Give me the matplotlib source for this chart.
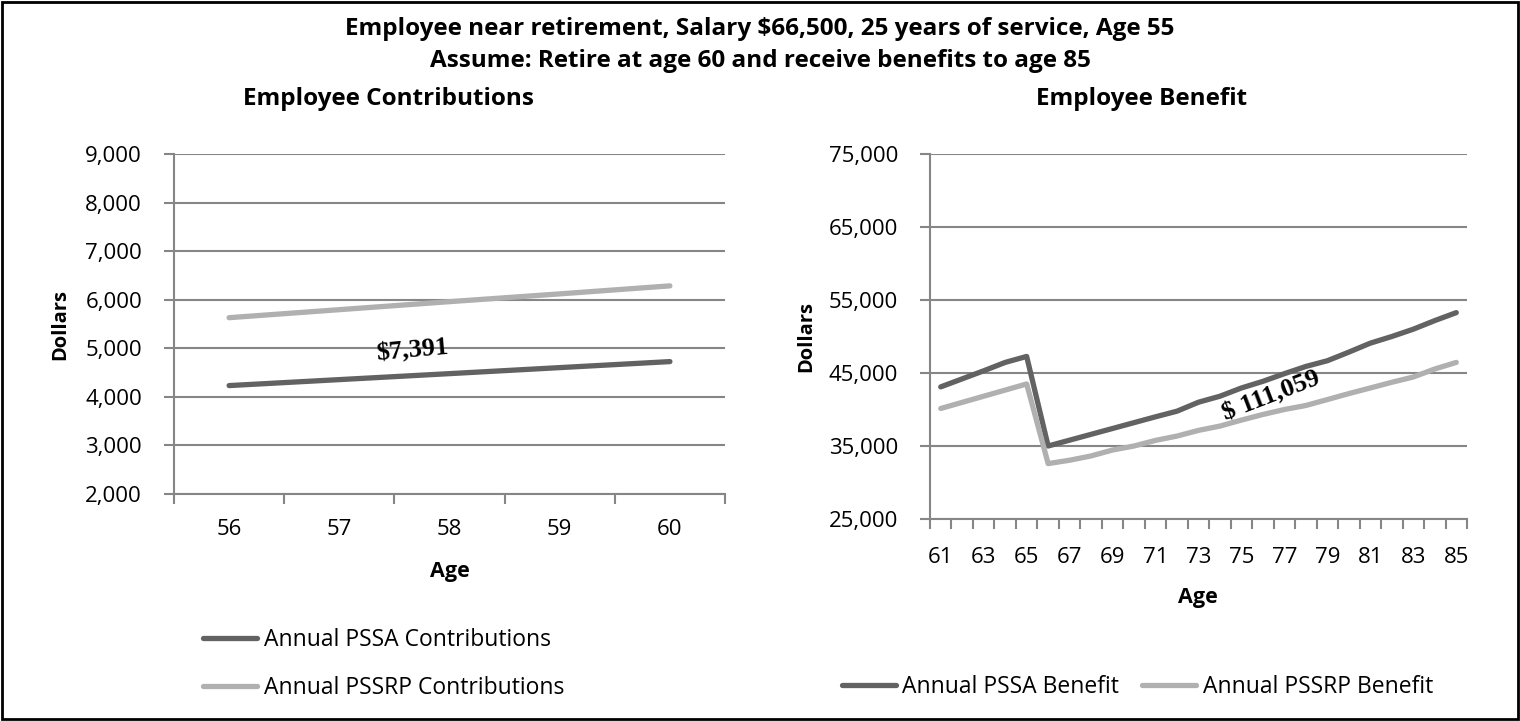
import matplotlib.pyplot as plt
from matplotlib.patches import Rectangle
from matplotlib.ticker import FuncFormatter

# contributions while still working
contrib_ages = [56, 57, 58, 59, 60]
pssa_contrib = [4232, 4355, 4478, 4602, 4726]
pssrp_contrib = [5630, 5795, 5960, 6120, 6285]

# benefits after retirement
benefit_ages = list(range(61, 86))
pssa_benefit = [43100, 44200, 45300, 46450, 47270,
                35000, 35800, 36600, 37400, 38200, 39000, 39770,
                41000, 41820, 42950, 43860, 44910, 45900, 46680,
                47860, 49090, 50000, 51000, 52180, 53270]
pssrp_benefit = [40140, 40980, 41820, 42660, 43500,
                 32590, 33050, 33640, 34450, 35000, 35770, 36360,
                 37140, 37730, 38550, 39320, 40000, 40550, 41360,
                 42180, 42950, 43730, 44450, 45550, 46450]

contrib_note = "$7,391"
benefit_note = "$ 111,059"

dark = '#626262'
light = '#b0b0b0'
grid = '#868686'
W, H = 1520, 721

plt.rcParams['font.family'] = ['Open Sans', 'DejaVu Sans']
plt.rcParams['axes.unicode_minus'] = False

fig = plt.figure(figsize=(W / 100, H / 100), dpi=100)


def px_axes(x0, x1, y0, y1):
    return fig.add_axes([x0 / W, 1 - y1 / H, (x1 - x0) / W, (y1 - y0) / H])


def style(ax):
    for s in ['top', 'right']:
        ax.spines[s].set_visible(False)
    for s in ['left', 'bottom']:
        ax.spines[s].set_color(grid)
        ax.spines[s].set_linewidth(1.5)
    ax.grid(axis='y', color=grid, linewidth=1.5)
    ax.set_axisbelow(True)
    ax.tick_params(axis='both', which='major', color=grid, width=1.5, length=7,
                   labelsize=16)
    ax.tick_params(axis='y', pad=16)
    ax.yaxis.set_major_formatter(FuncFormatter(lambda v, p: f'{v:,.0f}'))


# left chart
ax1 = px_axes(174, 725, 154, 494)
style(ax1)
ax1.plot(contrib_ages, pssa_contrib, color=dark, lw=3.8, solid_capstyle='round',
         label='Annual PSSA Contributions')
ax1.plot(contrib_ages, pssrp_contrib, color=light, lw=3.8, solid_capstyle='round',
         label='Annual PSSRP Contributions')
ax1.set_xlim(55.5, 60.5)
ax1.set_ylim(2000, 9000)
ax1.set_yticks(range(2000, 9001, 1000))
ax1.set_xticks([a + 0.5 for a in [55] + contrib_ages])
ax1.set_xticklabels([])
ax1.set_xticks(contrib_ages, minor=True)
ax1.set_xticklabels([str(a) for a in contrib_ages], minor=True)
ax1.tick_params(axis='x', which='minor', length=0, labelsize=16, pad=18)
ax1.text(57.66, 4950, contrib_note, rotation=5, ha='center', va='center',
         family='Liberation Serif', fontweight='bold', fontsize=19)
ax1.legend(loc='center left', bbox_to_anchor=(203 / W, 1 - 664 / H),
           bbox_transform=fig.transFigure, frameon=False, fontsize=16.5,
           handlelength=2.36, handletextpad=0.28, labelspacing=1.05,
           borderpad=0, borderaxespad=0)

# right chart
ax2 = px_axes(930, 1467, 154, 519)
style(ax2)
ax2.plot(benefit_ages, pssa_benefit, color=dark, lw=3.8, solid_capstyle='round',
         label='Annual PSSA Benefit')
ax2.plot(benefit_ages, pssrp_benefit, color=light, lw=3.8, solid_capstyle='round',
         label='Annual PSSRP Benefit')
ax2.set_xlim(60.5, 85.5)
ax2.set_ylim(25000, 75000)
ax2.set_yticks(range(25000, 75001, 10000))
ax2.set_xticks([a + 0.5 for a in [60] + benefit_ages])
ax2.set_xticklabels([])
ax2.set_xticks(benefit_ages[::2], minor=True)
ax2.set_xticklabels([str(a) for a in benefit_ages[::2]], minor=True)
ax2.tick_params(axis='x', which='minor', length=0, labelsize=16, pad=20)
ax2.text(76.4, 41900, benefit_note, rotation=21, ha='center', va='center',
         family='Liberation Serif', fontweight='bold', fontsize=19)
ax2.legend(loc='center left', bbox_to_anchor=(842 / W, 1 - 687 / H),
           bbox_transform=fig.transFigure, frameon=False, fontsize=16.5, ncol=2,
           handlelength=2.36, handletextpad=0.28, columnspacing=1.0,
           borderpad=0, borderaxespad=0)

# titles and axis labels
fig.text(0.5, 1 - 29 / H, 'Employee near retirement, Salary $66,500, 25 years of service, Age 55',
         ha='center', va='center', fontsize=17.5, fontweight='bold')
fig.text(0.5, 1 - 61 / H, 'Assume: Retire at age 60 and receive benefits to age 85',
         ha='center', va='center', fontsize=17.5, fontweight='bold')
fig.text(388 / W, 1 - 99 / H, 'Employee Contributions', ha='center', va='center',
         fontsize=17.5, fontweight='bold')
fig.text(1142 / W, 1 - 99 / H, 'Employee Benefit', ha='center', va='center',
         fontsize=17.5, fontweight='bold')
fig.text(60 / W, 1 - 324 / H, 'Dollars', rotation=90, ha='center', va='center',
         fontsize=14.5, fontweight='bold')
fig.text(806 / W, 1 - 336 / H, 'Dollars', rotation=90, ha='center', va='center',
         fontsize=14.5, fontweight='bold')
fig.text(450 / W, 1 - 571 / H, 'Age', ha='center', va='center',
         fontsize=15.5, fontweight='bold')
fig.text(1198 / W, 1 - 598 / H, 'Age', ha='center', va='center',
         fontsize=15.5, fontweight='bold')

# outer frame
fig.patches.append(Rectangle((2 / W, 2 / H), 1 - 4 / W, 1 - 4 / H,
                             transform=fig.transFigure, fill=False,
                             edgecolor='black', linewidth=2))

fig.savefig('out.png', dpi=100, facecolor='white')
